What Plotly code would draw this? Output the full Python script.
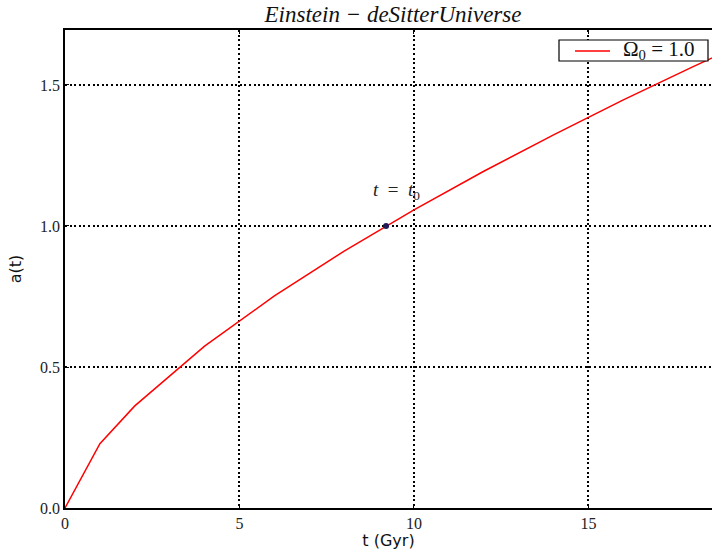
import plotly.graph_objects as go

# Data
t_gyr = [0, 1, 2, 4, 6, 8, 10, 12, 14, 16, 18, 20]
a_t = [0.0, 0.228, 0.362, 0.574, 0.752, 0.911, 1.057, 1.194, 1.323, 1.447, 1.565, 1.679]
t0_point = [9.2]
a0_point = [1.0]
x_ticks = [0, 5, 10, 15]
y_ticks = [0.0, 0.5, 1.0, 1.5]
y_tick_labels = ["0.0", "0.5", "1.0", "1.5"]
legend_label = "Ω<sub>0</sub> = 1.0"

SERIF = "Liberation Serif"
SANS = "DejaVu Sans"

# plot-area geometry in page pixels (used only to place the legend box)
L, R, T, B = 65, 712, 30, 508


def px(xp):
    return (xp - L) / (R - L)


def py(yp):
    return (B - yp) / (B - T)


fig = go.Figure()
fig.add_trace(go.Scatter(
    x=t_gyr, y=a_t, mode="lines",
    line=dict(color="#ff0000", width=1.5),
    name=legend_label, showlegend=False,
))
fig.add_trace(go.Scatter(
    x=t0_point, y=a0_point, mode="markers",
    marker=dict(color="#221a55", size=6, line=dict(width=0)),
    showlegend=False,
))
fig.add_annotation(
    x=9.5, y=1.124, xref="x", yref="y",
    text="<i>t</i>  =  <i>t</i><sub>0</sub>", showarrow=False,
    font=dict(family=SERIF, size=19, color="#222"),
)

# legend box (matplotlib style)
fig.add_shape(type="rect", xref="paper", yref="paper",
              x0=px(559), x1=px(708), y0=py(61), y1=py(40),
              line=dict(color="black", width=1.2), fillcolor="white", layer="above")
fig.add_shape(type="line", xref="paper", yref="paper",
              x0=px(575), x1=px(610), y0=py(51), y1=py(51),
              line=dict(color="#ff0000", width=1.5), layer="above")
fig.add_annotation(
    x=px(621), y=py(50.5), xref="paper", yref="paper",
    xanchor="left", yanchor="middle", text=legend_label, showarrow=False,
    font=dict(family=SERIF, size=21, color="#111"),
)

axis_common = dict(
    showgrid=True, gridcolor="black", gridwidth=1.6, griddash="2px,2.6px",
    showline=True, linecolor="black", linewidth=1.8,
    ticks="inside", ticklen=4, tickwidth=1.2, tickcolor="black",
    zeroline=False,
    tickfont=dict(family=SERIF, size=16, color="#222"),
)

fig.update_layout(
    width=712, height=550,
    margin=dict(l=L, r=712 - R, t=T, b=550 - B),
    paper_bgcolor="white", plot_bgcolor="white",
    title=dict(
        text="<i>Einstein − deSitterUniverse</i>",
        x=393 / 712, xanchor="center", y=1 - 14 / 550, yanchor="middle",
        font=dict(family=SERIF, size=23, color="#111"),
    ),
    xaxis=dict(
        range=[0, 18.54], tickvals=x_ticks, mirror="ticks",
        title=dict(text="t (Gyr)", font=dict(family=SANS, size=16, color="#111"), standoff=2),
        **axis_common,
    ),
    yaxis=dict(
        range=[0, 1.695], tickvals=y_ticks, ticktext=y_tick_labels,
        title=dict(text="a(t)", font=dict(family=SANS, size=16, color="#111"), standoff=14),
        **axis_common,
    ),
    showlegend=False,
)

fig.write_html(
    "out.html",
    config={"displayModeBar": False},
    post_script="document.body.style.margin='0';document.body.style.overflow='hidden';",
)
